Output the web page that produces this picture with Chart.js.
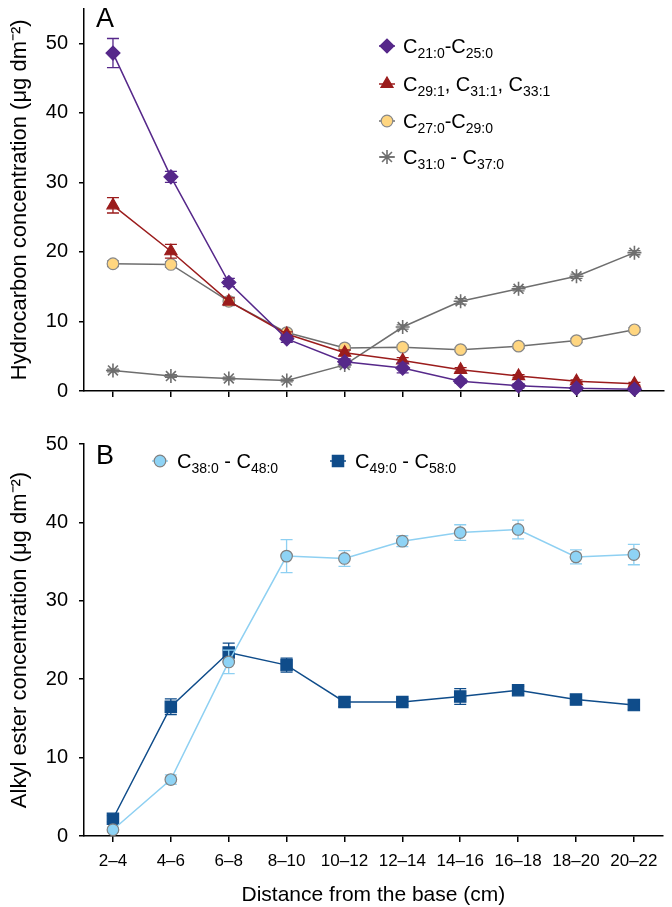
<!DOCTYPE html>
<html>
<head>
<meta charset="utf-8">
<script src="https://cdn.jsdelivr.net/npm/chart.js@4/dist/chart.umd.min.js"></script>
<style>
  body { margin: 0; background: #fff; }
  canvas { position: absolute; left: 0; }
  #ca { top: 0; }
  #cb { top: 420px; }
</style>
</head>
<body>
<canvas id="ca" width="672" height="420"></canvas>
<canvas id="cb" width="672" height="487"></canvas>
<script>
var distances = ['2–4', '4–6', '6–8', '8–10', '10–12', '12–14', '14–16', '16–18', '18–20', '20–22'];

// panel A, hydrocarbons
var c21_25 = [48.6, 30.8, 15.6, 7.5, 4.2, 3.3, 1.4, 0.75, 0.4, 0.25];
var c21_25Err = [2.1, 0.8, 0.6, 0.5, 0.4, 0.7, 0.3, 0.3, 0.2, 0.2];
var c29_33 = [26.7, 20.1, 12.9, 8.2, 5.5, 4.4, 3.05, 2.15, 1.4, 1.05];
var c29_33Err = [1.1, 1.0, 0.5, 0.3, 0.4, 0.4, 0.3, 0.2, 0.2, 0.2];
var c27_29 = [18.3, 18.2, 12.9, 8.4, 6.2, 6.3, 5.95, 6.45, 7.25, 8.8];
var c27_29Err = [0.4, 0.4, 0.6, 0.3, 0.3, 0.3, 0.3, 0.3, 0.3, 0.3];
var c31_37 = [2.95, 2.15, 1.8, 1.5, 3.75, 9.2, 12.9, 14.7, 16.5, 19.9];
var c31_37Err = [0.2, 0.2, 0.2, 0.2, 0.3, 0.3, 0.4, 0.3, 0.3, 0.3];

// panel B, alkyl esters
var c38_48 = [0.8, 7.2, 22.2, 35.7, 35.4, 37.6, 38.7, 39.1, 35.6, 35.9];
var c38_48Err = [0.3, 0.6, 1.5, 2.1, 1.0, 0.7, 1.0, 1.2, 0.9, 1.3];
var c49_58 = [2.2, 16.5, 23.4, 21.8, 17.1, 17.1, 17.8, 18.6, 17.4, 16.7];
var c49_58Err = [0.4, 1.0, 1.2, 0.9, 0.6, 0.4, 1.0, 0.5, 0.4, 0.6];

var FONT = "'Liberation Sans', Arial, Helvetica, sans-serif";
Chart.defaults.font.family = FONT;
Chart.defaults.color = '#000';

// draws "C_{21:0}" style labels with real subscripts
function drawRich(ctx, text, x, y) {
  text.split(/(_\{[^}]*\})/).forEach(function (p) {
    if (!p) return;
    var sub = p.charAt(0) === '_';
    var s = sub ? p.slice(2, -1) : p;
    ctx.font = (sub ? 14 : 20) + 'px ' + FONT;
    ctx.fillText(s, x, sub ? y + 5 : y);
    x += ctx.measureText(s).width;
  });
}

var errorBars = {
  id: 'errorBars',
  beforeDatasetDraw: function (chart, args) {
    var ds = chart.data.datasets[args.index];
    if (!ds.errors) return;
    var y = chart.scales.y, ctx = chart.ctx;
    ctx.save();
    ctx.strokeStyle = ds.errorColor;
    ctx.lineWidth = 1.3;
    args.meta.data.forEach(function (pt, i) {
      var t = y.getPixelForValue(ds.data[i] + ds.errors[i]);
      var b = y.getPixelForValue(ds.data[i] - ds.errors[i]);
      ctx.beginPath();
      ctx.moveTo(pt.x, t); ctx.lineTo(pt.x, b);
      ctx.moveTo(pt.x - 6, t); ctx.lineTo(pt.x + 6, t);
      ctx.moveTo(pt.x - 6, b); ctx.lineTo(pt.x + 6, b);
      ctx.stroke();
    });
    ctx.restore();
  }
};

var richLegend = {
  id: 'richLegend',
  afterDraw: function (chart, args, opts) {
    var ctx = chart.ctx;
    ctx.save();
    chart.data.datasets.forEach(function (ds, i) {
      var p = opts.pos[i];
      ctx.strokeStyle = ds.borderColor;
      ctx.lineWidth = 1.5;
      ctx.beginPath();
      ctx.moveTo(p[0] - 8, p[1]); ctx.lineTo(p[0] + 8, p[1]);
      ctx.stroke();
      ctx.fillStyle = ds.pointBackgroundColor;
      ctx.strokeStyle = ds.pointBorderColor;
      ctx.lineWidth = ds.pointBorderWidth;
      Chart.helpers.drawPoint(ctx, {
        pointStyle: ds.pointStyle, radius: ds.pointRadius,
        rotation: 0, borderWidth: ds.pointBorderWidth
      }, p[0], p[1]);
      ctx.fillStyle = '#000';
      ctx.textBaseline = 'alphabetic';
      ctx.textAlign = 'left';
      drawRich(ctx, ds.label, p[0] + opts.gap, p[1] + 7);
    });
    ctx.font = '27px ' + FONT;
    ctx.fillStyle = '#000';
    ctx.fillText(opts.letter[0], opts.letter[1], opts.letter[2]);
    ctx.restore();
  }
};

function series(label, data, errors, style, radius, line, fill, border, errColor, bw) {
  return {
    label: label, data: data, errors: errors, errorColor: errColor,
    borderColor: line, backgroundColor: fill, borderWidth: 1.5, tension: 0,
    pointStyle: style, pointRadius: radius, pointHoverRadius: radius,
    pointBackgroundColor: fill, pointBorderColor: border, pointBorderWidth: bw || 1.2,
    clip: false
  };
}

function axes(yMax, yTitle, showX, xHeight) {
  return {
    x: {
      type: 'category', offset: true,
      ticks: { display: showX, font: { size: 17 }, padding: 9, maxRotation: 0, autoSkip: false },
      grid: { drawOnChartArea: false, tickLength: 6, color: '#000', lineWidth: 1.5 },
      border: { color: '#000', width: 1.5 },
      title: { display: showX, text: 'Distance from the base (cm)', font: { size: 21, lineHeight: 1 }, padding: { top: 0, bottom: 1.5 } },
      afterFit: function (s) { s.height = xHeight; s.paddingLeft = 0; s.paddingRight = 0; }
    },
    y: {
      min: 0, max: yMax,
      ticks: { stepSize: 10, includeBounds: false, padding: 11, font: { size: 20 } },
      grid: { drawOnChartArea: false, tickLength: 5, color: '#000', lineWidth: 1.5 },
      border: { color: '#000', width: 1.5 },
      title: { display: true, text: yTitle, font: { size: 22, lineHeight: 1 }, padding: { top: 9, bottom: 0 } },
      afterFit: function (s) { s.width = 84; s.paddingTop = 0; s.paddingBottom = 0; }
    }
  };
}

new Chart(document.getElementById('ca'), {
  type: 'line',
  data: {
    labels: distances,
    datasets: [
      series('C_{21:0}-C_{25:0}', c21_25, c21_25Err, 'rectRot', 7, '#56288a', '#56288a', '#56288a', '#56288a'),
      series('C_{29:1}, C_{31:1}, C_{33:1}', c29_33, c29_33Err, 'triangle', 7, '#9b1c1c', '#9b1c1c', '#9b1c1c', '#9b1c1c'),
      series('C_{27:0}-C_{29:0}', c27_29, c27_29Err, 'circle', 5.8, '#6e6e6e', '#ffd680', '#888888', '#888888'),
      series('C_{31:0} - C_{37:0}', c31_37, c31_37Err, 'star', 7, '#6e6e6e', '#6e6e6e', '#6e6e6e', '#6e6e6e', 1.6)
    ]
  },
  options: {
    responsive: false, animation: false,
    layout: { padding: 0 },
    scales: axes(55, 'Hydrocarbon concentration (μg dm⁻²)', false, 29),
    plugins: {
      legend: { display: false }, tooltip: { enabled: false },
      richLegend: { pos: [[387, 46], [387, 84], [387, 121], [387, 157]], gap: 16, letter: ['A', 96, 27] }
    }
  },
  plugins: [errorBars, richLegend]
});

new Chart(document.getElementById('cb'), {
  type: 'line',
  data: {
    labels: distances,
    datasets: [
      series('C_{38:0} - C_{48:0}', c38_48, c38_48Err, 'circle', 5.8, '#8ed0f2', '#8ed3f5', '#808080', '#8ed0f2'),
      series('C_{49:0} - C_{58:0}', c49_58, c49_58Err, 'rect', 8, '#0f4c8a', '#0f4c8a', '#0f4c8a', '#0f4c8a')
    ]
  },
  options: {
    responsive: false, animation: false,
    layout: { padding: { top: 24, left: 0, right: 0, bottom: 0 } },
    scales: axes(50, 'Alkyl ester concentration (μg dm⁻²)', true, 71),
    plugins: {
      legend: { display: false }, tooltip: { enabled: false },
      richLegend: { pos: [[160, 41], [338, 41]], gap: 17, letter: ['B', 96, 44] }
    }
  },
  plugins: [errorBars, richLegend]
});
</script>
</body>
</html>
